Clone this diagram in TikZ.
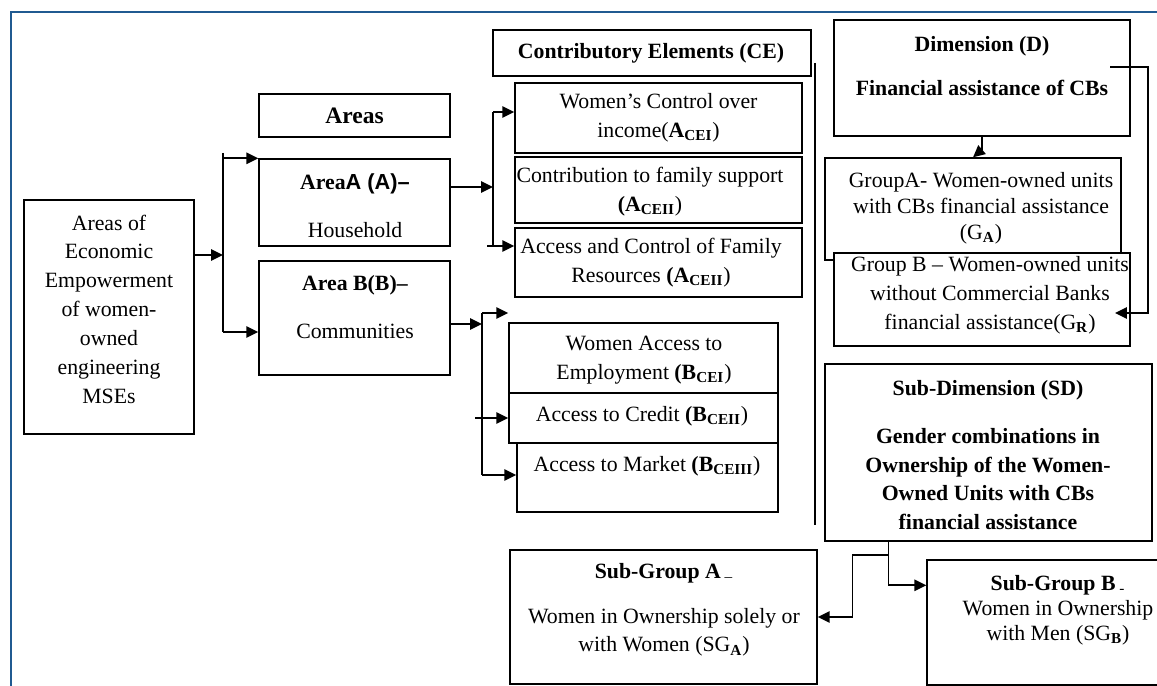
\documentclass[tikz,border=0pt]{standalone}
\usepackage{fontspec}
\setmainfont{Liberation Serif}
\setsansfont{Liberation Sans}
\usetikzlibrary{arrows.meta,fit,positioning}
\definecolor{frameblue}{HTML}{205A91}
\tikzset{
  box/.style={draw, line width=0.75pt, inner sep=0pt, fill=white},
  txt/.style={align=center, inner sep=0pt, font=\fontsize{12.4}{16.4}\selectfont},
  bold/.style={font=\fontsize{12.4}{16.4}\selectfont\bfseries},
  link/.style={line width=1.1pt, -{Triangle[length=6.8pt,width=6.4pt]}},
  bare/.style={line width=1.1pt},
}
\begin{document}
\begin{tikzpicture}[x=0.02cm,y=-0.02cm]
\useasboundingbox (0,0) rectangle (1157,686);
\draw[frameblue, line width=1.7pt] (11,690) -- (11,12) -- (1160,12);

\node[box, fit={(24,200) (194,434)}] (mse) {};
\node[txt] (mseT) at (109,309) {Areas of\\Economic\\Empowerment\\of women-\\owned\\engineering\\MSEs};

\node[box, fit={(259,94) (450,137)}] (areas) {};
\node[txt, font=\fontsize{13.4}{16}\selectfont\bfseries] (areasT) at (areas) {Areas};
\node[box, fit={(259,159) (450,246)}] (areaA) {};
\node[txt] (areaAT) at (355,206) {\textbf{Area\textsf{A (A)–}}\\[11pt]Household};
\node[box, fit={(259,261) (450,375)}] (areaB) {};
\node[txt] (areaBT) at (355,307) {\textbf{Area B(B)–}\\[11pt]Communities};

\node[box, fit={(493,30) (811,76)}] (ce) {};
\node[txt, bold] (ceT) at (651,53) {Contributory Elements (CE)};
\node[box, fit={(515,83) (802,153)}] (aI) {};
\node[txt] (aIT) at (aI) {Women’s Control over\\income(\textbf{A\textsubscript{CEI}})};
\node[box, fit={(515,157) (802,223)}] (aII) {};
\node[txt] (aIIT) at (650,192) {Contribution to family support\\\textbf{(A\textsubscript{CEII}})};
\node[box, fit={(515,228) (802,297)}] (aIII) {};
\node[txt] (aIIIT) at (651,263) {Access and Control of Family\\Resources \textbf{(A\textsubscript{CEII}})};

\node[box, fit={(509,323) (778,393)}] (bI) {};
\node[txt] (bIT) at (644,360) {Women Access to\\Employment \textbf{(B\textsubscript{CEI}})};
\node[box, fit={(509,393) (778,443)}] (bII) {};
\node[txt] (bIIT) at (642,416) {Access to Credit \textbf{(B\textsubscript{CEII}})};
\node[box, fit={(517,443) (778,512)}] (bIII) {};
\node[txt] (bIIIT) at (647,466) {Access to Market \textbf{(B\textsubscript{CEIII}})};

\draw[line width=0.8pt] (815,63) -- (815,525);

\node[box, fit={(834,20) (1130,136)}] (dim) {};
\node[txt, bold] (dimT) at (982,66) {Dimension (D)\\[9pt]Financial assistance of CBs};
\node[box, fit={(825,158) (1121,260)}] (grpA) {};
\node[txt, font=\fontsize{12.4}{14.7}\selectfont] (grpAT) at (981,208) {GroupA- Women-owned units\\with CBs financial assistance\\(G\textsubscript{\textbf{A}})};
\node[box, fit={(834,253) (1130,346)}] (grpB) {};
\node[txt] (grpBT) at (990,295) {Group B – Women-owned units\\without Commercial Banks\\financial assistance(G\textsubscript{\textbf{R}})};

\node[box, fit={(825,364) (1152,541)}] (sd) {};
\node[txt, bold] (sdT) at (988,455) {Sub-Dimension (SD)\\[11pt]Gender combinations in\\Ownership of the Women-\\Owned Units with CBs\\financial assistance};
\node[box, fit={(510,550) (817,684)}] (sgA) {};
\node[txt] (sgAT) at (664,610) {\textbf{Sub-Group A}\textsubscript{ –}\\[9pt]Women in Ownership solely or\\with Women (SG\textsubscript{\textbf{A}})};
\node[box, fit={(927,560) (1180,685)}] (sgB) {};
\node[txt, font=\fontsize{12.4}{14.2}\selectfont] (sgBT) at (1058,610) {\textbf{Sub-Group B}\textsubscript{ -}\\Women in Ownership\\with Men (SG\textsubscript{\textbf{B}})};

\coordinate (s1) at (223,255);
\coordinate (s1top) at (223,153);
\coordinate (s1bot) at (223,332);
\draw[link] (s1 -| mse.east) -- (s1);
\draw[bare] (s1top) -- (s1bot);
\draw[link] (s1top |- areaA.north) -- (areaA.north west);
\draw[link] (s1bot) -- (s1bot -| areaB.west);

\coordinate (s2) at (493,187);
\coordinate (s2top) at (493,112);
\coordinate (s2bot) at (493,246);
\draw[link] (s2 -| areaA.east) -- (s2);
\draw[bare] (s2top) -- (s2bot);
\draw[link] (s2top) -- (s2top -| aI.west);
\draw[link] ([xshift=-0.12cm]s2bot) -- (s2bot -| aIII.west);

\coordinate (s3) at (482,324);
\coordinate (s3top) at (482,313);
\coordinate (s3bot) at (482,475);
\draw[link] (s3 -| areaB.east) -- (s3);
\draw[bare] (s3top) -- (s3bot);
\draw[link] (s3top) -- (s3top -| bI.west);
\draw[link] ([xshift=-0.14cm]bII.west -| s3) -- (bII.west);
\draw[link] (s3bot) -- (s3bot -| bIII.west);

\coordinate (dOut) at (1110,67);
\coordinate (gIn) at (1115,313);
\draw[link] (dOut) -- ++(38,0) |- (gIn);
\draw[link] (dim.south) -- ++(0,13) -- (grpA.north);

\draw[link] ([xshift=-2cm]sd.south) |- ([yshift=-0.52cm]sgB.north west);
\draw[link] ([xshift=-2cm,yshift=-0.26cm]sd.south) -- ++(-36,0) |- (sgA.east);
\end{tikzpicture}
\end{document}
